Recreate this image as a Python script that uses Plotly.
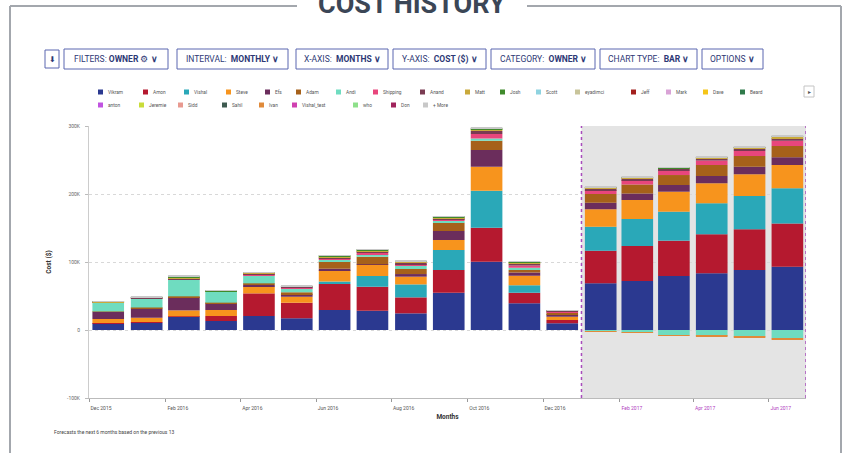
import plotly.graph_objects as go

# ---------------- data ----------------
months = ["2015-12-01", "2016-01-01", "2016-02-01", "2016-03-01", "2016-04-01", "2016-05-01",
          "2016-06-01", "2016-07-01", "2016-08-01", "2016-09-01", "2016-10-01", "2016-11-01",
          "2016-12-01", "2017-01-01", "2017-02-01", "2017-03-01", "2017-04-01", "2017-05-01",
          "2017-06-01"]

vikram   = [9.8, 10.8, 19.6, 13.2, 20.6, 17.2, 29.4, 28.4, 24.5, 54.9, 100.5, 39.2, 9.8, 68.6, 72.0, 79.4, 83.3, 88.2, 93.1]
amon     = [0.5, 0.8, 0.5, 7.4, 33.3, 23.0, 38.2, 35.3, 23.5, 33.3, 50.0, 15.7, 4.9, 48.0, 51.5, 52.0, 57.4, 59.8, 63.7]
vishal   = [0, 0, 0, 0, 0, 0, 3.9, 15.7, 19.1, 29.4, 54.4, 10.8, 0, 35.3, 39.7, 42.6, 45.6, 49.0, 51.5]
steve    = [5.9, 6.4, 8.8, 8.8, 9.8, 8.8, 16.7, 16.2, 11.3, 14.7, 35.3, 14.2, 4.9, 25.5, 27.9, 29.4, 29.4, 31.9, 34.3]
efs      = [10.3, 13.7, 19.6, 9.8, 2.5, 3.5, 2.0, 1.0, 3.9, 13.2, 24.5, 4.5, 3.5, 9.8, 9.8, 9.8, 10.8, 11.3, 11.3]
adam     = [0.8, 1.5, 1.0, 1.0, 2.4, 2.9, 10.8, 11.3, 7.4, 12.3, 13.7, 3.8, 2.5, 12.7, 13.2, 14.7, 16.2, 15.7, 16.7]
andi     = [13.2, 13.2, 24.5, 15.7, 11.3, 5.9, 2.5, 3.5, 4.5, 2.5, 3.4, 3.5, 0.8, -2.5, -3.5, -7.4, -8.8, -9.8, -12.3]
shipping = [0.3, 0.3, 0.5, 0.5, 2.0, 1.2, 2.0, 2.5, 2.5, 2.5, 6.4, 3.0, 0.8, 5.9, 6.4, 6.4, 6.4, 7.4, 7.8]
anand    = [0.3, 1.0, 1.5, 0.5, 1.5, 1.2, 1.5, 2.0, 2.0, 1.5, 4.5, 3.0, 1.0, 2.5, 2.5, 2.5, 3.0, 3.2, 3.7]
matt     = [0.3, 0.5, 1.0, 0.4, 0.5, 0.6, 1.0, 1.0, 1.5, 1.0, 2.5, 1.5, 0.5, 1.2, 1.2, 1.2, 1.5, 1.6, 1.9]
josh     = [0.8, 0.3, 2.0, 0.5, 0.4, 0.3, 1.0, 1.0, 1.0, 1.0, 1.0, 0.8, 0.2, 0.6, 0.6, 0.6, 0.7, 0.8, 1.0]
ivan     = [0, 0, 0, 0, 0, 0, 0, 0, 0, 0, 0, 0, 0, -0.3, -0.4, -0.5, -0.8, -1.0, -1.2]
more     = [0.3, 0.3, 1.5, 0.4, 0.5, 0.5, 1.0, 1.0, 1.3, 0.8, 1.8, 1.2, 0.2, 0.6, 0.6, 0.6, 0.7, 0.8, 0.8]

legend_names = ["Vikram", "Amon", "Vishal", "Steve", "Efs", "Adam", "Andi", "Shipping", "Anand",
                "Matt", "Josh", "Scott", "eyadimci", "Jeff", "Mark", "Dave", "Beard",
                "anton", "Jeremie", "Sidd", "Sahil", "Ivan", "Vishal_test", "who", "Don", "+ More"]
legend_colors = ["#2b3990", "#b5192f", "#2aa8b8", "#f7941d", "#6b2d5c", "#a6611a", "#6fdcc0", "#e8467c", "#7a3b52",
                 "#c9a93b", "#3f8a2b", "#8fd3e0", "#c8c49a", "#a3201e", "#d9a3d6", "#f5c518", "#2f7a4a",
                 "#c154e0", "#c9dc3a", "#e89a90", "#3e5a50", "#e08a3a", "#d040b0", "#8ee08a", "#a0245c", "#c8c8c8"]

series = [("Vikram", vikram), ("Amon", amon), ("Vishal", vishal), ("Steve", steve), ("Efs", efs),
          ("Adam", adam), ("Andi", andi), ("Shipping", shipping), ("Anand", anand), ("Matt", matt),
          ("Josh", josh), ("Ivan", ivan), ("+ More", more)]

tick_months = ["2015-12-01", "2016-02-01", "2016-04-01", "2016-06-01", "2016-08-01", "2016-10-01",
               "2016-12-01", "2017-02-01", "2017-04-01", "2017-06-01"]
tick_labels = ["Dec 2015", "Feb 2016", "Apr 2016", "Jun 2016", "Aug 2016", "Oct 2016",
               "Dec 2016", "Feb 2017", "Apr 2017", "Jun 2017"]
forecast_start = "2017-01-01"
forecast_end = "2017-07-01"

buttons = ["FILTERS: <b>OWNER</b> ⚙ <b>∨</b>", "INTERVAL:  <b>MONTHLY ∨</b>", "X-AXIS:  <b>MONTHS ∨</b>",
           "Y-AXIS:  <b>COST ($) ∨</b>", "CATEGORY:  <b>OWNER ∨</b>", "CHART TYPE:  <b>BAR ∨</b>",
           "OPTIONS <b>∨</b>"]

# ---------------- layout helpers (pixel -> paper) ----------------
W, H = 848, 453
PL, PR, PT, PB = 89, 806, 126, 398


def px(x):
    return (x - PL) / (PR - PL)


def py(y):
    return (PB - y) / (PB - PT)


color_of = dict(zip(legend_names, legend_colors))

fig = go.Figure()
for name, vals in series:
    fig.add_trace(go.Bar(
        x=months, y=[v * 1000 for v in vals], name=name,
        marker=dict(color=color_of[name], line=dict(width=0)),
        xperiod="M1", xperiodalignment="middle",
        width=25.5 * 86400000, showlegend=False,
    ))

shapes = []
annotations = []

# forecast region
shapes.append(dict(type="rect", xref="x", yref="paper", x0=forecast_start, x1=forecast_end, y0=0, y1=1,
                   fillcolor="#e4e4e4", line=dict(width=0), layer="below"))
for xv in (forecast_start, forecast_end):
    shapes.append(dict(type="line", xref="x", yref="paper", x0=xv, x1=xv, y0=0, y1=1,
                       line=dict(color="#a84cbc", width=1.5, dash="dot"), layer="above"))

# outer frame
frame_col = "#a3a7ad"
shapes.append(dict(type="line", xref="paper", yref="paper", x0=px(10), x1=px(297), y0=py(6), y1=py(6),
                   line=dict(color=frame_col, width=2)))
shapes.append(dict(type="line", xref="paper", yref="paper", x0=px(527), x1=px(841), y0=py(6), y1=py(6),
                   line=dict(color=frame_col, width=2)))
shapes.append(dict(type="line", xref="paper", yref="paper", x0=px(10), x1=px(10), y0=py(6), y1=py(460),
                   line=dict(color=frame_col, width=2)))
shapes.append(dict(type="line", xref="paper", yref="paper", x0=px(841), x1=px(841), y0=py(6), y1=py(460),
                   line=dict(color=frame_col, width=2)))

annotations.append(dict(text="<b>COST HISTORY</b>", xref="paper", yref="paper", x=px(412), y=py(4),
                        xanchor="center", yanchor="middle", showarrow=False,
                        font=dict(family="Liberation Sans Narrow, Roboto, Arial", size=27, color="#3b4656")))

# toolbar
btn_col = "#5a66b0"
txt_col = "#2d3875"
btn_x = [(64, 168), (177, 288), (296, 388), (393, 486), (491, 595), (600, 697), (702, 763)]
shapes.append(dict(type="rect", xref="paper", yref="paper", x0=px(45), x1=px(59), y0=py(50), y1=py(68),
                   line=dict(color=btn_col, width=1), fillcolor="white"))
annotations.append(dict(text="⬇", xref="paper", yref="paper", x=px(52), y=py(59), showarrow=False,
                        xanchor="center", yanchor="middle", font=dict(size=8, color=txt_col)))
for (x0, x1), label in zip(btn_x, buttons):
    shapes.append(dict(type="rect", xref="paper", yref="paper", x0=px(x0), x1=px(x1), y0=py(49), y1=py(69),
                       line=dict(color=btn_col, width=1), fillcolor="white"))
    annotations.append(dict(text=label, xref="paper", yref="paper", x=px((x0 + x1) / 2), y=py(59),
                            showarrow=False, xanchor="center", yanchor="middle",
                            font=dict(family="Liberation Sans Narrow, Roboto, Arial", size=8.5, color=txt_col)))

# legend (custom, two rows)
leg_x = [98, 143, 184, 226, 265, 296, 336, 373, 420, 465, 500, 536, 575, 631, 666, 703, 740,
         98, 139, 178, 222, 259, 292, 353, 391, 423]
leg_row = [0] * 17 + [1] * 9
leg_y = [92, 105]
for name, col, lx, r in zip(legend_names, legend_colors, leg_x, leg_row):
    yy = leg_y[r]
    shapes.append(dict(type="rect", xref="paper", yref="paper", x0=px(lx), x1=px(lx + 5),
                       y0=py(yy + 2.5), y1=py(yy - 2.5), line=dict(width=0), fillcolor=col))
    annotations.append(dict(text=name, xref="paper", yref="paper", x=px(lx + 8), y=py(yy),
                            showarrow=False, xanchor="left", yanchor="middle",
                            font=dict(family="Roboto, Arial", size=4.8, color="#555")))
shapes.append(dict(type="rect", xref="paper", yref="paper", x0=px(804), x1=px(814), y0=py(86), y1=py(97),
                   line=dict(color="#c4c4c4", width=1), fillcolor="white"))
annotations.append(dict(text="▸", xref="paper", yref="paper", x=px(809), y=py(91.5), showarrow=False,
                        xanchor="center", yanchor="middle", font=dict(size=6, color="#555")))

# footnote
annotations.append(dict(text="Forecasts the next 6 months based on the previous 13", xref="paper", yref="paper",
                        x=px(52), y=py(432), showarrow=False, xanchor="left", yanchor="middle",
                        font=dict(family="Roboto, Arial", size=5, color="#444")))

ticktext = []
for tv, tl in zip(tick_months, tick_labels):
    if tv >= forecast_start:
        ticktext.append('<span style="color:#b040c0">%s</span>' % tl)
    else:
        ticktext.append(tl)

fig.update_layout(
    width=W, height=H,
    margin=dict(l=PL, r=W - PR, t=PT, b=H - PB, pad=0),
    paper_bgcolor="white", plot_bgcolor="white",
    barmode="relative", showlegend=False,
    font=dict(family="Roboto, Arial", color="#555"),
    shapes=shapes, annotations=annotations,
    xaxis=dict(type="date", range=["2015-12-01", "2017-07-01"], tickmode="array",
               tickvals=tick_months, ticktext=ticktext, ticks="outside", ticklen=3,
               tickcolor="#999", showline=True, linecolor="#bbb", linewidth=1,
               showgrid=False, zeroline=False, tickfont=dict(size=5, color="#555"),
               ticklabelshift=12, ticklabelstandoff=2,
               title=dict(text="<b>Months</b>", font=dict(size=6.5, color="#333"), standoff=4)),
    yaxis=dict(range=[-100000, 300000], tickvals=[-100000, 0, 100000, 200000, 300000],
               ticktext=["-100K", "0", "100K", "200K", "300K"], ticks="outside", ticklen=3,
               tickcolor="#bbb", showline=True, linecolor="#ccc", linewidth=1,
               showgrid=True, gridcolor="#d8d8d8", griddash="dot", gridwidth=1, zeroline=False,
               tickfont=dict(size=5, color="#666"), ticklabelstandoff=4,
               title=dict(text="<b>Cost ($)</b>", font=dict(size=6.5, color="#333"), standoff=14)),
)

fig.write_html("out.html", config={"displayModeBar": False},
               post_script="document.body.style.margin='0px';document.body.style.overflow='hidden';")
